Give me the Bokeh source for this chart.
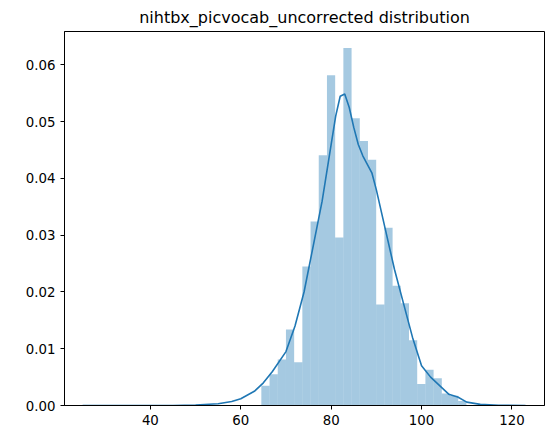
from bokeh.plotting import figure
from bokeh.models import Range1d, FixedTicker
from bokeh.embed import file_html
from bokeh.resources import INLINE

# histogram (density) bars
bin_start = 64.55
bin_width = 1.815
heights = [0.0035, 0.0055, 0.0081, 0.0134, 0.0076, 0.0245, 0.0324, 0.0441, 0.0582,
           0.0296, 0.0630, 0.0506, 0.0466, 0.0433, 0.0178, 0.0313, 0.0211, 0.0180,
           0.0115, 0.0038, 0.0063, 0.0048, 0.0021, 0.0017, 0.0008]

# KDE curve
kde_x = [25, 45, 50, 55, 58, 60, 63, 65, 67, 70, 72, 74, 76, 78, 80, 81, 82, 83, 84,
         85, 86, 87, 88, 89, 90, 92, 94, 96, 98, 100, 102, 104, 106, 108, 110, 113, 117, 123]
kde_y = [0, 0, 0.0001, 0.0003, 0.0007, 0.0012, 0.0025, 0.004, 0.006, 0.0095, 0.014,
         0.020, 0.028, 0.036, 0.046, 0.051, 0.0545, 0.0549, 0.0525, 0.049, 0.046,
         0.044, 0.0425, 0.041, 0.038, 0.031, 0.024, 0.018, 0.012, 0.007, 0.005,
         0.0035, 0.002, 0.0015, 0.0006, 0.0002, 0.00005, 0]

lefts = [bin_start + i * bin_width for i in range(len(heights))]

p = figure(width=548, height=427, output_backend="svg", toolbar_location=None,
           title="nihtbx_picvocab_uncorrected distribution",
           x_range=Range1d(21, 127.2), y_range=Range1d(0, 0.0659),
           min_border_left=64, min_border_right=4, min_border_top=8, min_border_bottom=0)
p.title.align = "center"
p.title.text_font = "DejaVu Sans"
p.title.text_font_style = "normal"
p.title.text_font_size = "12pt"
p.title.text_color = "black"

p.quad(left=lefts, right=[l + bin_width for l in lefts], bottom=0, top=heights,
       fill_color="#1f77b4", fill_alpha=0.4, line_color=None)
p.line(kde_x, kde_y, line_color="#1f77b4", line_width=1.6)

p.grid.visible = False
p.outline_line_color = "black"
p.xaxis.ticker = FixedTicker(ticks=[40, 60, 80, 100, 120])
p.yaxis.ticker = FixedTicker(ticks=[0, 0.01, 0.02, 0.03, 0.04, 0.05, 0.06])
p.yaxis.major_label_overrides = {0: "0.00", 0.01: "0.01", 0.02: "0.02", 0.03: "0.03",
                                 0.04: "0.04", 0.05: "0.05", 0.06: "0.06"}
for ax in (p.xaxis, p.yaxis):
    ax.minor_tick_line_color = None
    ax.major_tick_out = 4
    ax.major_tick_in = 0
    ax.major_label_text_font = "DejaVu Sans"
    ax.major_label_text_font_size = "10pt"
    ax.major_label_text_color = "black"
    ax.axis_line_color = "black"

open("out.html", "w").write(file_html(p, INLINE))
